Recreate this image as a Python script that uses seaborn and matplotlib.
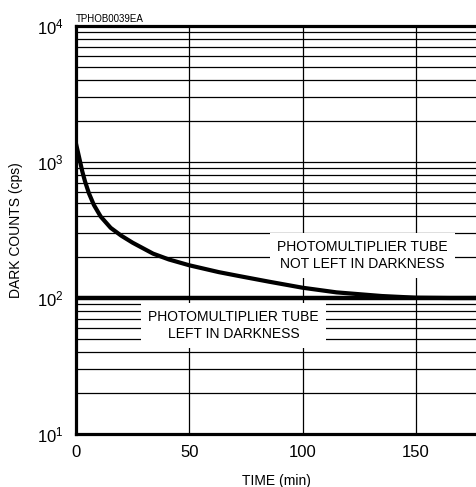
import numpy as np
import pandas as pd
import matplotlib
matplotlib.use("Agg")
import matplotlib.pyplot as plt
from matplotlib.ticker import LogLocator, FixedLocator, LogFormatterSciNotation, NullFormatter
import seaborn as sns

# Data
time_not_dark = [0, 1.8, 2.8, 4, 5.7, 7.9, 10.9, 15.3, 20, 25, 34, 41, 50, 63, 72, 85, 100, 115, 135, 150, 165, 177]
counts_not_dark = [1365, 1007, 849, 718, 589, 483, 397, 328, 287, 255, 212, 192, 174, 155, 145, 132, 119, 110, 103.4, 100.5, 100, 100]
time_dark = [0, 177]
counts_dark = [100, 100]
x_ticks = [0, 50, 100, 150]
label_not_dark = "PHOTOMULTIPLIER TUBE\nNOT LEFT IN DARKNESS"
label_dark = "PHOTOMULTIPLIER TUBE\nLEFT IN DARKNESS"

sns.set_theme(style="white")
plt.rcParams["font.family"] = ["Liberation Sans", "DejaVu Sans"]
plt.rcParams["mathtext.default"] = "regular"
plt.rcParams["text.color"] = "black"

fig = plt.figure(figsize=(4.77, 4.87), dpi=100)
ax = fig.add_axes([76 / 477, 1 - 434 / 487, 1 - 76 / 477, (434 - 26) / 487])

df1 = pd.DataFrame({"t": time_not_dark, "c": counts_not_dark})
df2 = pd.DataFrame({"t": time_dark, "c": counts_dark})
sns.lineplot(data=df1, x="t", y="c", ax=ax, color="black", lw=3.0, zorder=5)
sns.lineplot(data=df2, x="t", y="c", ax=ax, color="black", lw=3.2, zorder=5)

ax.set_yscale("log")
ax.set_ylim(10, 1e4)
ax.set_xlim(0, 177)

ax.yaxis.set_major_locator(LogLocator(base=10, numticks=10))
ax.yaxis.set_minor_locator(LogLocator(base=10, subs=np.arange(2, 10), numticks=20))
ax.yaxis.set_major_formatter(LogFormatterSciNotation())
ax.yaxis.set_minor_formatter(NullFormatter())
ax.xaxis.set_major_locator(FixedLocator(x_ticks))

ax.grid(True, which="major", axis="both", color="black", lw=0.9)
ax.grid(True, which="minor", axis="y", color="black", lw=0.9)
ax.set_axisbelow(True)

ax.tick_params(axis="both", which="both", length=0, labelsize=12, colors="black")
ax.tick_params(axis="y", pad=9)
ax.tick_params(axis="x", pad=8)

for s in ["left", "bottom", "top"]:
    ax.spines[s].set_visible(True)
    ax.spines[s].set_color("black")
    ax.spines[s].set_linewidth(2.3)
ax.spines["right"].set_visible(False)

ax.set_xlabel("TIME (min)", fontsize=10, color="black", labelpad=10)
ax.set_ylabel("DARK COUNTS (cps)", fontsize=10, color="black", labelpad=10)

ax.text(126.4, 206, label_not_dark, ha="center", va="center", fontsize=10,
        linespacing=1.25, zorder=4, color="black",
        bbox=dict(facecolor="white", edgecolor="none", pad=5))
ax.text(69.6, 63, label_dark, ha="center", va="center", fontsize=10,
        linespacing=1.25, zorder=4, color="black",
        bbox=dict(facecolor="white", edgecolor="none", pad=5))

ax.text(0, 1.005, "TPHOB0039EA", transform=ax.transAxes, ha="left", va="bottom",
        fontsize=7, color="black")

fig.savefig("out.png", dpi=100)
